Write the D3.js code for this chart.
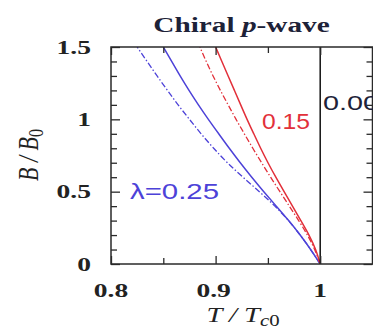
<!DOCTYPE html>
<html>
<head>
<meta charset="utf-8">
<script src="https://cdn.jsdelivr.net/npm/d3@7"></script>
<style>
  html, body { margin: 0; padding: 0; background: #fff; }
  svg { display: block; }
</style>
</head>
<body>
<script>
// ---------- data ----------
const B_VALUES = [0, 0.1, 0.2, 0.3, 0.4, 0.5, 0.6, 0.7, 0.8, 0.9, 1.0, 1.1, 1.2, 1.3, 1.4, 1.5];
const T_L025_SOLID   = [1.000, 0.991, 0.981, 0.970, 0.958, 0.946, 0.9345, 0.9235, 0.913, 0.903, 0.893, 0.8835, 0.8745, 0.866, 0.858, 0.850];
const T_L025_DASHDOT = [1.000, 0.991, 0.981, 0.970, 0.957, 0.942, 0.926, 0.911, 0.898, 0.886, 0.875, 0.864, 0.854, 0.844, 0.8345, 0.825];
const T_L015_SOLID   = [1.000, 0.996, 0.9895, 0.9815, 0.9735, 0.9655, 0.9575, 0.950, 0.943, 0.9365, 0.930, 0.924, 0.918, 0.912, 0.906, 0.900];
const T_L015_DASHDOT = [1.000, 0.995, 0.988, 0.9795, 0.9705, 0.9615, 0.9525, 0.944, 0.9355, 0.9275, 0.9195, 0.912, 0.9045, 0.8975, 0.891, 0.885];
const B_L000 = [0, 1.5];
const T_L000 = [1.0, 1.0];

const X_DOMAIN = [0.8, 1.05];
const Y_DOMAIN = [0, 1.5];
const X_MAJOR = [0.8, 0.9, 1.0];
const X_MAJOR_LABELS = ["0.8", "0.9", "1"];
const X_MINOR = [0.85, 0.95];
const Y_MAJOR = [0, 0.5, 1.0, 1.5];
const Y_MAJOR_LABELS = ["0", "0.5", "1", "1.5"];
const Y_MINOR = [0.1, 0.2, 0.3, 0.4, 0.6, 0.7, 0.8, 0.9, 1.1, 1.2, 1.3, 1.4];

const TITLE = ["Chiral ", "p", "-wave"];
const LABEL_L000 = "0.00";
const LABEL_L015 = "0.15";
const LABEL_L025 = "λ=0.25";

// ---------- layout ----------
const W = 373, H = 329;
const pL = 111, pR = 372.5, pT = 47, pB = 264;
const BLUE = "#4d42d8", RED = "#e2303a", AXIS = "#2a2a2a";

const svg = d3.select("body").append("svg").attr("width", W).attr("height", H);
svg.append("rect").attr("width", W).attr("height", H).attr("fill", "#fff");

const x = d3.scaleLinear().domain(X_DOMAIN).range([pL, pR]);
const y = d3.scaleLinear().domain(Y_DOMAIN).range([pB, pT]);

svg.append("defs").append("clipPath").attr("id", "plotclip")
  .append("rect").attr("x", pL).attr("y", pT).attr("width", pR - pL).attr("height", pB - pT);

// ---------- curves ----------
const plot = svg.append("g").attr("clip-path", "url(#plotclip)");
function series(Ts, Bs) { return Bs.map((b, i) => ({ t: Ts[i], b })); }
const line = d3.line().x(d => x(d.t)).y(d => y(d.b)).curve(d3.curveBasis);

const curves = [
  { data: series(T_L025_DASHDOT, B_VALUES), color: BLUE, dash: "6,2.2,1.4,2.2", w: 1.3 },
  { data: series(T_L025_SOLID, B_VALUES), color: BLUE, dash: null, w: 1.5 },
  { data: series(T_L015_DASHDOT, B_VALUES), color: RED, dash: "6,2.2,1.4,2.2", w: 1.3 },
  { data: series(T_L015_SOLID, B_VALUES), color: RED, dash: null, w: 1.5 },
  { data: series(T_L000, B_L000), color: "#111", dash: null, w: 1.5 }
];
curves.forEach(c => {
  plot.append("path").attr("d", line(c.data)).attr("fill", "none")
    .attr("stroke", c.color).attr("stroke-width", c.w)
    .attr("stroke-dasharray", c.dash);
});

// ---------- frame & ticks ----------
function tickAxis(axisFn, scale, values, size, transform) {
  const g = svg.append("g").attr("transform", transform)
    .call(axisFn(scale).tickValues(values).tickSize(size).tickFormat(""));
  g.select(".domain").remove();
  g.selectAll(".tick line").attr("stroke", AXIS).attr("stroke-width", 1.3);
}
tickAxis(d3.axisLeft, y, Y_MAJOR, -9, `translate(${pL},0)`);
tickAxis(d3.axisLeft, y, Y_MINOR, -6, `translate(${pL},0)`);
tickAxis(d3.axisRight, y, Y_MAJOR, -9, `translate(${pR},0)`);
tickAxis(d3.axisRight, y, Y_MINOR, -6, `translate(${pR},0)`);
tickAxis(d3.axisBottom, x, X_MAJOR, -8, `translate(0,${pB})`);
tickAxis(d3.axisBottom, x, X_MINOR, -6, `translate(0,${pB})`);
tickAxis(d3.axisTop, x, X_MAJOR, -8, `translate(0,${pT})`);
tickAxis(d3.axisTop, x, X_MINOR, -6, `translate(0,${pT})`);

svg.append("rect").attr("x", pL).attr("y", pT).attr("width", pR - pL).attr("height", pB - pT)
  .attr("fill", "none").attr("stroke", AXIS).attr("stroke-width", 1.5);

// ---------- text helpers ----------
function stretched(px, py, sx, anchor) {
  return svg.append("text")
    .attr("transform", `translate(${px},${py}) scale(${sx},1)`)
    .attr("text-anchor", anchor);
}
const SERIF = "'Liberation Serif', 'Times New Roman', serif";
const SANS = "'Liberation Sans', Arial, sans-serif";

// tick labels
Y_MAJOR.forEach((v, i) => {
  stretched(91, y(v) + 6.5, 1.45, "end").text(Y_MAJOR_LABELS[i])
    .attr("font-family", SERIF).attr("font-weight", "bold").attr("font-size", 19).attr("fill", "#222");
});
X_MAJOR.forEach((v, i) => {
  stretched(x(v) - (i === 1 ? 2 : 0), 297, 1.45, "middle").text(X_MAJOR_LABELS[i])
    .attr("font-family", SERIF).attr("font-weight", "bold").attr("font-size", 19).attr("fill", "#222");
});

// title
const title = stretched(241.5, 32, 1.33, "middle")
  .attr("font-family", SERIF).attr("font-weight", "bold").attr("font-size", 22).attr("fill", "#1d2238");
title.append("tspan").text(TITLE[0]);
title.append("tspan").attr("font-style", "italic").text(TITLE[1]);
title.append("tspan").text(TITLE[2]);

// x axis label
const xl = stretched(243, 322, 1.3, "middle")
  .attr("font-family", SERIF).attr("font-style", "italic").attr("font-size", 22).attr("fill", "#222");
xl.append("tspan").text("T / T");
xl.append("tspan").attr("font-size", 16).attr("dy", 4).text("c");
xl.append("tspan").attr("font-size", 16).attr("font-style", "normal").text("0");

// y axis label (rotated)
const yl = svg.append("text")
  .attr("transform", `translate(38,155) scale(1.3,1) rotate(-90)`)
  .attr("text-anchor", "middle")
  .attr("font-family", SERIF).attr("font-style", "italic").attr("font-size", 22).attr("fill", "#222");
yl.append("tspan").text("B / B");
yl.append("tspan").attr("font-size", 16).attr("dy", 4).attr("font-style", "normal").text("0");

// curve labels
svg.append("text").attr("x", 262).attr("y", 129).attr("textLength", 48).attr("lengthAdjust", "spacingAndGlyphs")
  .attr("font-family", SANS).attr("font-size", 22).attr("fill", RED).text(LABEL_L015);
svg.append("text").attr("x", 323).attr("y", 110).attr("textLength", 56).attr("lengthAdjust", "spacingAndGlyphs")
  .attr("font-family", SANS).attr("font-size", 21).attr("fill", "#1d2238").text(LABEL_L000);
svg.append("text").attr("x", 130).attr("y", 199).attr("textLength", 89).attr("lengthAdjust", "spacingAndGlyphs")
  .attr("font-family", SANS).attr("font-size", 22).attr("fill", BLUE).text(LABEL_L025);
</script>
</body>
</html>
